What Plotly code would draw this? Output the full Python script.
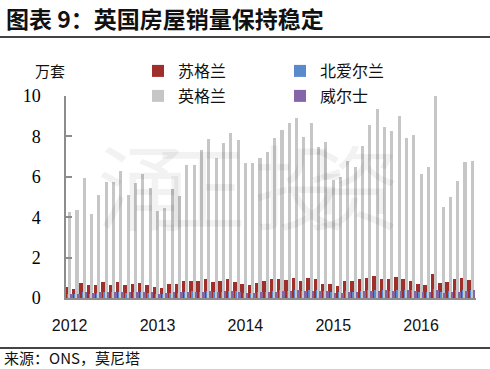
import plotly.graph_objects as go

# ---- data (万套, monthly Jan 2012 - Aug 2016) ----
year_labels = ["2012", "2013", "2014", "2015", "2016"]
year_ticks = [0, 12, 24, 36, 48]

scotland = [0.53, 0.46, 0.75, 0.63, 0.66, 0.81, 0.66, 0.79, 0.63, 0.69, 0.76, 0.64,
            0.53, 0.50, 0.69, 0.69, 0.84, 0.83, 0.84, 0.93, 0.81, 0.86, 0.96, 0.79,
            0.71, 0.64, 0.76, 0.83, 0.96, 0.94, 0.88, 1.01, 0.84, 0.99, 0.93, 0.71,
            0.69, 0.58, 0.83, 0.86, 0.93, 0.99, 1.07, 0.95, 0.93, 1.05, 0.96, 0.85,
            0.68, 0.62, 1.19, 0.73, 0.78, 0.92, 0.98, 0.91]
n_ireland = [0.18, 0.20, 0.28, 0.22, 0.25, 0.30, 0.28, 0.32, 0.26, 0.28, 0.30, 0.27,
             0.20, 0.22, 0.27, 0.26, 0.28, 0.33, 0.30, 0.34, 0.30, 0.32, 0.36, 0.33,
             0.26, 0.27, 0.32, 0.30, 0.33, 0.38, 0.36, 0.40, 0.35, 0.38, 0.42, 0.37,
             0.28, 0.28, 0.34, 0.32, 0.35, 0.40, 0.38, 0.42, 0.37, 0.38, 0.42, 0.40,
             0.30, 0.30, 0.45, 0.32, 0.33, 0.38, 0.40, 0.42]
england = [4.25, 4.34, 5.93, 4.18, 5.08, 5.76, 5.72, 6.28, 5.11, 5.70, 6.16, 5.45,
           4.30, 4.48, 5.41, 5.04, 6.57, 6.57, 7.31, 7.89, 6.94, 7.69, 8.18, 7.80,
           6.70, 6.68, 6.94, 7.24, 7.94, 8.30, 8.66, 8.93, 7.99, 8.66, 7.50, 7.71,
           5.83, 5.97, 6.79, 6.48, 7.51, 8.55, 9.34, 8.49, 8.26, 9.02, 7.94, 8.05,
           6.12, 6.50, 10.00, 4.52, 5.02, 5.79, 6.72, 6.78]
wales = [0.22, 0.22, 0.28, 0.26, 0.28, 0.30, 0.30, 0.32, 0.28, 0.30, 0.31, 0.28,
         0.22, 0.23, 0.28, 0.28, 0.30, 0.32, 0.32, 0.35, 0.31, 0.33, 0.34, 0.32,
         0.26, 0.26, 0.31, 0.30, 0.32, 0.35, 0.36, 0.38, 0.33, 0.36, 0.37, 0.34,
         0.27, 0.27, 0.32, 0.32, 0.33, 0.36, 0.37, 0.40, 0.36, 0.37, 0.38, 0.35,
         0.29, 0.29, 0.42, 0.26, 0.28, 0.32, 0.36, 0.38]

months = list(range(len(england)))

W, H = 490, 369
# plot area in pixels (left, right, top, bottom)
PL, PR, PT, PB = 66, 476, 96, 298
# page rules (pixel rows): under the title, above the source line
RULE_ROWS = [37, 348]


def fx(x):
    return x / W


def fy(y):
    return 1 - y / H


CJK = "Noto Sans CJK SC"
AX = "#8C8C8C"
RULE = "#444444"

fig = go.Figure()
series = [
    ("苏格兰", scotland, "#9E2F2B", -0.42, 0.52, "legend", "y"),
    ("北爱尔兰", n_ireland, "#5A8ACB", -0.20, 0.36, "legend", "y"),
    ("英格兰", england, "#C6C6C6", 0.0, 0.42, "legend2", "y"),
    ("威尔士", wales, "#8466A8", 0.24, 0.36, "legend2", "y2"),
]
for name, vals, color, center, width, lg, yax in series:
    fig.add_trace(go.Bar(
        x=months, y=vals, name=name, yaxis=yax,
        marker=dict(color=color, line=dict(width=0)),
        width=width, offset=center - width / 2,
        legend=lg,
    ))

# page rules drawn on a full-page overlay in pixel units
rx, ry = [], []
for r in RULE_ROWS:
    rx += [0, W, None]
    ry += [r, r, None]
fig.add_trace(go.Scatter(x=rx, y=ry, mode="lines", xaxis="x2", yaxis="y3",
                         line=dict(color=RULE, width=2), showlegend=False,
                         hoverinfo="skip"))

# watermark
for ch, cx in zip("涌正投资", [95, 200, 300, 402]):
    fig.add_annotation(text=ch, x=fx(cx), y=fy(182), xref="paper", yref="paper",
                       showarrow=False, font=dict(family=CJK, size=92, color="rgba(0,0,0,0.05)"))

# title, unit, source
fig.add_annotation(text="<b>图表 9：英国房屋销量保持稳定</b>", x=fx(4), y=fy(18),
                   xref="paper", yref="paper", xanchor="left", yanchor="middle",
                   showarrow=False, font=dict(family=CJK, size=23, color="#111"))
fig.add_annotation(text="万套", x=fx(33), y=fy(70), xref="paper", yref="paper",
                   xanchor="left", yanchor="middle", showarrow=False,
                   font=dict(family=CJK, size=15, color="#111"))
fig.add_annotation(text="来源：ONS，莫尼塔", x=fx(2), y=fy(357), xref="paper", yref="paper",
                   xanchor="left", yanchor="middle", showarrow=False,
                   font=dict(family=CJK, size=15, color="#111"))

leg_common = dict(orientation="h", xref="paper", yref="paper",
                  xanchor="left", yanchor="top", entrywidth=97,
                  font=dict(family=CJK, size=16, color="#111"),
                  bgcolor="rgba(0,0,0,0)", itemclick=False, traceorder="normal")
fig.update_layout(
    width=W, height=H, autosize=False,
    margin=dict(l=0, r=0, t=0, b=0, pad=0, autoexpand=False),
    paper_bgcolor="white", plot_bgcolor="rgba(0,0,0,0)",
    barmode="overlay", bargap=0, hovermode=False,
    legend=dict(x=fx(138), y=fy(54), **leg_common),
    legend2=dict(x=fx(138), y=fy(79), **leg_common),
    xaxis=dict(domain=[fx(PL), fx(PR)], range=[-0.5, len(england) - 0.5],
               tickvals=year_ticks, ticktext=year_labels,
               showline=True, linecolor=AX, linewidth=1.5, ticks="",
               showgrid=False, zeroline=False, ticklabelstandoff=12,
               tickfont=dict(family="Liberation Sans", size=16, color="#111")),
    # labels: outside invisible ticks push labels away from the axis line
    yaxis=dict(domain=[fy(PB), fy(PT)], range=[0, 10], dtick=2,
               showline=True, linecolor=AX, linewidth=1.5,
               ticks="outside", ticklen=20, tickcolor="rgba(0,0,0,0)",
               showgrid=False, zeroline=False,
               tickfont=dict(family="Liberation Serif", size=18, color="#000")),
    # same scale, visible inside tick marks
    yaxis2=dict(range=[0, 10], dtick=2, overlaying="y", side="left", anchor="x",
                ticks="inside", ticklen=6, tickcolor=AX, tickwidth=1.5,
                showticklabels=False, showline=False, showgrid=False, zeroline=False),
    # full-page pixel overlay for the rules
    xaxis2=dict(domain=[0, 1], range=[0, W], anchor="y3", visible=False, fixedrange=True),
    yaxis3=dict(domain=[0, 1], range=[H, 0], anchor="x2", visible=False, fixedrange=True),
)

fig.write_html("out.html", config={"displayModeBar": False},
               post_script="document.body.style.margin='0px';")
